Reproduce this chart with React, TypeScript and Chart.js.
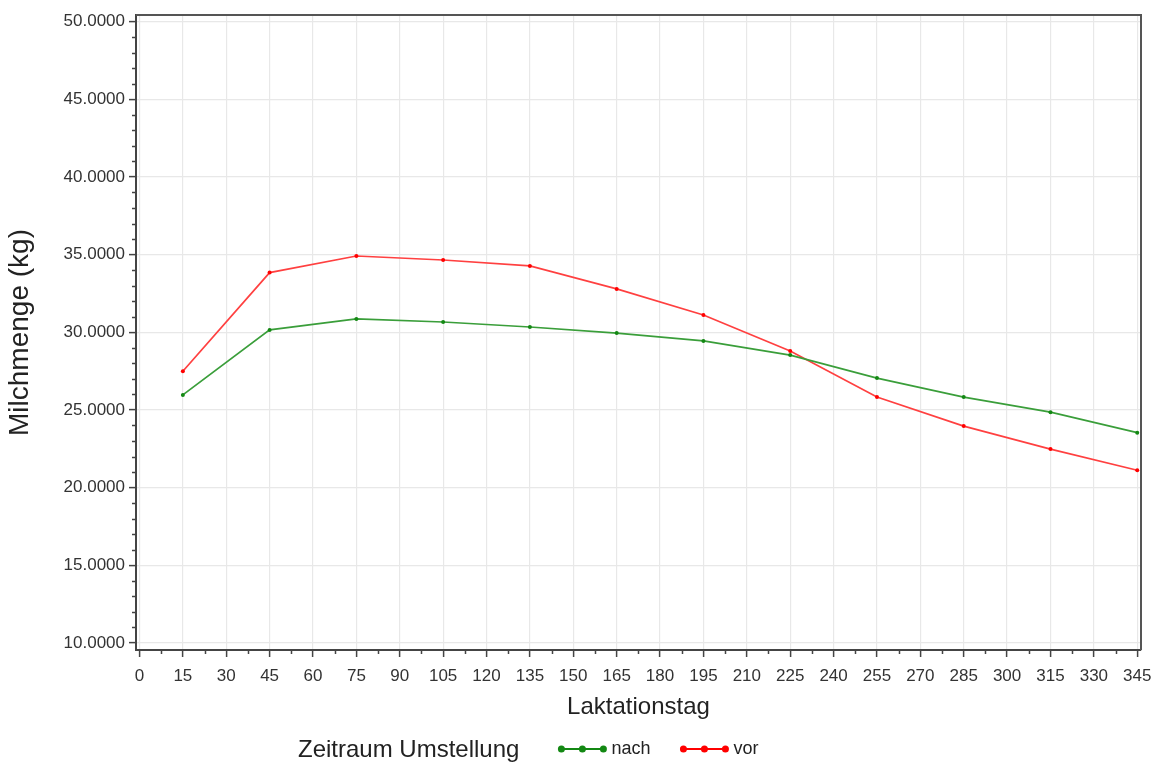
import React, { useEffect, useRef } from "react";
import { Chart, registerables } from "chart.js";

Chart.register(...registerables);

// Laktationstage (x) and mean milk yield per period
const days = [15, 45, 75, 105, 135, 165, 195, 225, 255, 285, 315, 345];
const nachValues = [25.97, 30.15, 30.86, 30.66, 30.34, 29.95, 29.44, 28.53, 27.05, 25.83, 24.86, 23.54];
const vorValues = [27.49, 33.84, 34.91, 34.65, 34.27, 32.79, 31.11, 28.79, 25.83, 23.96, 22.48, 21.12];

const xTicks = [0, 15, 30, 45, 60, 75, 90, 105, 120, 135, 150, 165, 180, 195, 210, 225, 240, 255, 270, 285, 300, 315, 330, 345];
const yTicks = [10, 15, 20, 25, 30, 35, 40, 45, 50];

const seriesNames = ["nach", "vor"];
const legendTitle = "Zeitraum Umstellung";
const xTitle = "Laktationstag";
const yTitle = "Milchmenge (kg)";

const GREEN_LINE = "#3a9e3a";
const GREEN_POINT = "#138813";
const RED_LINE = "#ff4040";
const RED_POINT = "#ff0000";
const FONT = "'Liberation Sans', Arial, sans-serif";

const frameAndLegend = {
  id: "frameAndLegend",
  afterDraw(chart: any) {
    const { ctx, chartArea } = chart;
    const xs = chart.scales.x;
    const ys = chart.scales.y;
    ctx.save();

    // top and right frame lines
    ctx.strokeStyle = "#555";
    ctx.lineWidth = 2;
    ctx.beginPath();
    ctx.moveTo(chartArea.left, chartArea.top);
    ctx.lineTo(chartArea.right, chartArea.top);
    ctx.lineTo(chartArea.right, chartArea.bottom);
    ctx.stroke();

    // minor tick marks
    ctx.strokeStyle = "#444";
    ctx.lineWidth = 1.5;
    ctx.beginPath();
    for (let v = 10; v <= 50; v += 1) {
      if (v % 5 === 0) continue;
      const py = Math.round(ys.getPixelForValue(v)) + 0.5;
      ctx.moveTo(chartArea.left - 4, py);
      ctx.lineTo(chartArea.left, py);
    }
    for (let v = 7.5; v < 345; v += 15) {
      const px = Math.round(xs.getPixelForValue(v)) + 0.5;
      ctx.moveTo(px, chartArea.bottom);
      ctx.lineTo(px, chartArea.bottom + 4);
    }
    ctx.stroke();

    // legend row
    const cy = 749;
    ctx.textBaseline = "middle";
    ctx.textAlign = "left";
    ctx.fillStyle = "#222";
    ctx.font = `24px ${FONT}`;
    let x = 298;
    ctx.fillText(legendTitle, x, cy + 1);
    x += ctx.measureText(legendTitle).width + 42;

    const entries = [
      { name: seriesNames[0], point: GREEN_POINT },
      { name: seriesNames[1], point: RED_POINT },
    ];
    ctx.font = `18px ${FONT}`;
    for (const e of entries) {
      ctx.strokeStyle = e.point;
      ctx.lineWidth = 2;
      ctx.beginPath();
      ctx.moveTo(x, cy);
      ctx.lineTo(x + 42, cy);
      ctx.stroke();
      ctx.fillStyle = e.point;
      for (const dx of [0, 21, 42]) {
        ctx.beginPath();
        ctx.arc(x + dx, cy, 3.5, 0, Math.PI * 2);
        ctx.fill();
      }
      ctx.fillStyle = "#222";
      ctx.fillText(e.name, x + 50, cy);
      x += 50 + ctx.measureText(e.name).width + 33;
    }
    ctx.restore();
  },
};

export default function App() {
  const canvasRef = useRef<HTMLCanvasElement | null>(null);

  useEffect(() => {
    if (!canvasRef.current) return;
    const chart = new Chart(canvasRef.current, {
      type: "line",
      data: {
        datasets: [
          {
            label: seriesNames[0],
            data: days.map((d, i) => ({ x: d, y: nachValues[i] })),
            borderColor: GREEN_LINE,
            backgroundColor: GREEN_POINT,
            pointBackgroundColor: GREEN_POINT,
            pointBorderColor: GREEN_POINT,
            borderWidth: 1.7,
            pointRadius: 2,
            pointBorderWidth: 0,
            tension: 0,
          },
          {
            label: seriesNames[1],
            data: days.map((d, i) => ({ x: d, y: vorValues[i] })),
            borderColor: RED_LINE,
            backgroundColor: RED_POINT,
            pointBackgroundColor: RED_POINT,
            pointBorderColor: RED_POINT,
            borderWidth: 1.7,
            pointRadius: 2,
            pointBorderWidth: 0,
            tension: 0,
          },
        ],
      },
      options: {
        animation: false,
        responsive: false,
        layout: { padding: { top: 15, right: 13, left: 0, bottom: 0 } },
        plugins: {
          legend: { display: false },
          tooltip: { enabled: false },
        },
        scales: {
          x: {
            type: "linear",
            min: -1.2,
            max: 346.3,
            afterBuildTicks: (scale: any) => {
              scale.ticks = xTicks.map((v) => ({ value: v }));
            },
            afterFit: (scale: any) => {
              scale.height = 117;
              scale.paddingLeft = 0;
              scale.paddingRight = 0;
            },
            ticks: {
              autoSkip: false,
              maxRotation: 0,
              padding: 9,
              color: "#333",
              font: { family: FONT, size: 17 },
              callback: (v: any) => String(v),
            },
            grid: {
              color: "#e8e8e8",
              lineWidth: 1.2,
              tickColor: "#444",
              tickLength: 7,
              tickWidth: 1.5,
            },
            border: { display: true, color: "#444", width: 2 },
            title: {
              display: true,
              text: xTitle,
              color: "#222",
              font: { family: FONT, size: 24 },
              padding: { top: 0, bottom: 45 },
            },
          },
          y: {
            type: "linear",
            min: 9.55,
            max: 50.42,
            afterBuildTicks: (scale: any) => {
              scale.ticks = yTicks.map((v) => ({ value: v }));
            },
            afterFit: (scale: any) => {
              scale.width = 136;
              scale.paddingTop = 0;
              scale.paddingBottom = 0;
            },
            ticks: {
              autoSkip: false,
              padding: 4,
              color: "#333",
              font: { family: FONT, size: 17 },
              callback: (v: any) => Number(v).toFixed(4),
            },
            grid: {
              color: "#e8e8e8",
              lineWidth: 1.2,
              tickColor: "#444",
              tickLength: 7,
              tickWidth: 1.5,
            },
            border: { display: true, color: "#444", width: 2 },
            title: {
              display: true,
              text: yTitle,
              color: "#222",
              font: { family: FONT, size: 28 },
              padding: { top: 3, bottom: 0 },
            },
          },
        },
      },
      plugins: [frameAndLegend],
    } as any);
    return () => chart.destroy();
  }, []);

  return (
    <div style={{ position: "absolute", left: 0, top: 0, width: 1154, height: 767, background: "#fff" }}>
      <canvas ref={canvasRef} width={1154} height={767} style={{ width: 1154, height: 767, display: "block" }} />
    </div>
  );
}
